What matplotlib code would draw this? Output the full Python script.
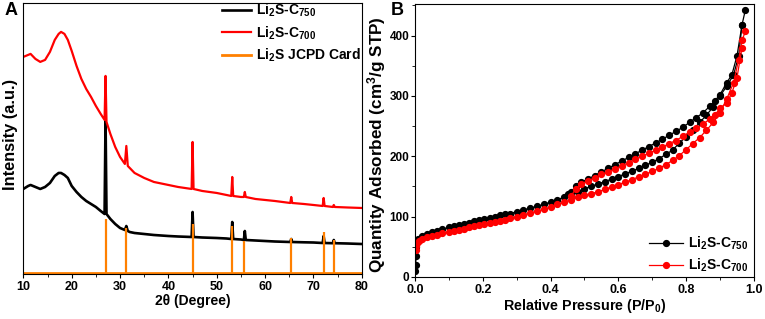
import matplotlib
matplotlib.use('Agg')
import matplotlib.pyplot as plt
from matplotlib.ticker import MultipleLocator

plt.rcParams['font.family'] = ['Liberation Sans', 'DejaVu Sans']
plt.rcParams['font.weight'] = 'bold'
plt.rcParams['axes.labelweight'] = 'bold'
plt.rcParams['mathtext.fontset'] = 'custom'
plt.rcParams['mathtext.rm'] = 'Liberation Sans:bold'
plt.rcParams['mathtext.it'] = 'Liberation Sans:bold'
plt.rcParams['mathtext.bf'] = 'Liberation Sans:bold'

# ---- panel A: XRD ----
two_theta = [10, 11, 11.5, 12.5, 13.5, 14.5, 15.5, 16.5, 17.3, 17.8, 18.5, 19.2, 20, 21, 22, 23, 24, 25, 26,
             26.8, 27.0, 27.2, 28, 29, 30, 31, 31.3, 31.6, 32, 33, 35, 37, 40, 42, 44.8, 45.0, 45.2, 47, 50,
             52, 53.0, 53.2, 53.4, 55, 55.6, 55.8, 56.0, 58, 60, 62, 65.2, 65.4, 65.6, 68, 70, 71.9, 72.1,
             72.3, 74.0, 74.2, 74.4, 77, 80]
int_750 = [85, 88, 89, 87, 85, 87, 91, 98, 101, 101, 99, 96, 88, 82, 77, 73, 70, 67, 63,
           60, 155, 60, 55, 50, 46, 44, 48, 43, 42, 41, 40, 39, 38, 37.5, 37, 62, 37, 36.5, 36,
           35.5, 35, 52, 35, 34.5, 34, 43, 34, 33.5, 33, 32.5, 32, 35, 32, 31.7, 31.5, 31, 38,
           31, 30.8, 34, 30.8, 30.5, 30]
int_700 = [217, 219, 220, 215, 212, 214, 222, 234, 240, 242, 240, 234, 223, 208, 195, 185, 177, 168, 160,
           154, 198, 152, 140, 127, 117, 110, 128, 108, 106, 101, 96, 92, 89, 87, 85, 132, 85, 83, 81,
           79, 78, 97, 78, 77, 77, 82, 77, 75, 74, 73, 71, 77, 71, 70, 69, 68, 76,
           68, 67, 69, 67, 66.5, 66]
card_pos = [27.0, 31.2, 45.0, 53.2, 55.6, 65.4, 72.1, 74.2]
card_int = [55, 46, 50, 48, 33, 36, 42, 34]

# ---- panel B: N2 isotherms ----
p_ads_750 = [0.001, 0.002, 0.003, 0.004, 0.006, 0.01, 0.02, 0.035, 0.05, 0.065, 0.08, 0.1, 0.115, 0.13,
             0.145, 0.16, 0.175, 0.19, 0.205, 0.22, 0.235, 0.25, 0.265, 0.28, 0.3, 0.32, 0.34, 0.36, 0.38,
             0.4, 0.42, 0.44, 0.46, 0.48, 0.5, 0.52, 0.54, 0.56, 0.58, 0.6, 0.62, 0.64, 0.66, 0.68, 0.7,
             0.72, 0.74, 0.76, 0.78, 0.8, 0.82, 0.84, 0.86, 0.88, 0.9, 0.92, 0.94, 0.955, 0.965, 0.975]
q_ads_750 = [10, 20, 35, 50, 58, 63, 68, 71, 74, 76, 79, 82, 84, 86,
             88, 90, 92, 94, 96, 98, 100, 102, 104, 105, 108, 111, 114, 117, 120,
             124, 128, 132, 136, 141, 146, 150, 154, 158, 162, 166, 171, 175, 180, 185, 190,
             196, 203, 210, 222, 232, 243, 256, 268, 282, 300, 316, 335, 366, 418, 443]
p_des_750 = [0.965, 0.95, 0.935, 0.92, 0.9, 0.885, 0.87, 0.85, 0.83, 0.81, 0.79, 0.77, 0.75, 0.73, 0.71,
             0.69, 0.67, 0.65, 0.63, 0.61, 0.59, 0.57, 0.55, 0.53, 0.51, 0.49, 0.475, 0.46, 0.45]
q_des_750 = [418, 366, 335, 322, 302, 292, 283, 272, 264, 256, 248, 241, 235, 228, 222,
             216, 210, 204, 198, 192, 186, 180, 174, 168, 162, 157, 150, 141, 137]
p_ads_700 = [0.002, 0.004, 0.007, 0.012, 0.02, 0.035, 0.05, 0.065, 0.08, 0.1, 0.115, 0.13, 0.145, 0.16,
             0.175, 0.19, 0.205, 0.22, 0.235, 0.25, 0.265, 0.28, 0.3, 0.32, 0.34, 0.36, 0.38, 0.4, 0.42,
             0.44, 0.46, 0.48, 0.5, 0.52, 0.54, 0.56, 0.58, 0.6, 0.62, 0.64, 0.66, 0.68, 0.7, 0.72, 0.74,
             0.76, 0.78, 0.8, 0.82, 0.84, 0.86, 0.88, 0.9, 0.92, 0.94, 0.955, 0.965, 0.975]
q_ads_700 = [45, 52, 56, 60, 63, 66, 68, 70, 72, 74, 76, 78, 80, 82,
             84, 86, 88, 90, 91, 93, 95, 97, 100, 103, 106, 109, 112, 116, 120,
             124, 128, 132, 135, 138, 141, 145, 149, 153, 157, 161, 166, 170, 175, 180, 186,
             193, 201, 211, 221, 231, 243, 256, 272, 295, 322, 360, 392, 407]
p_des_700 = [0.965, 0.95, 0.935, 0.92, 0.9, 0.885, 0.87, 0.85, 0.83, 0.81, 0.79, 0.77, 0.75, 0.73,
             0.71, 0.69, 0.67, 0.65, 0.63, 0.61, 0.59, 0.57, 0.55, 0.53, 0.51, 0.49, 0.475, 0.46]
q_des_700 = [380, 330, 305, 288, 280, 268, 262, 253, 246, 240, 233, 226, 221, 215,
             210, 205, 200, 195, 189, 184, 179, 174, 170, 164, 159, 154, 146, 134]

lbl_750 = r'Li$_\mathrm{2}$S-C$_\mathrm{750}$'
lbl_700 = r'Li$_\mathrm{2}$S-C$_\mathrm{700}$'
orange = '#ff8000'

fig = plt.figure(figsize=(7.65, 3.19), dpi=100)
axA = fig.add_axes([0.0305, 0.141, 0.4425, 0.85])
axB = fig.add_axes([0.5425, 0.132, 0.4430, 0.855])

# panel A
axA.plot(two_theta, int_750, color='black', lw=1.9, label=lbl_750)
axA.plot(two_theta, int_700, color='red', lw=1.6, label=lbl_700)
axA.vlines(card_pos, 0.8, card_int, color=orange, lw=1.6)
axA.axhline(0.8, color=orange, lw=2, label='Li$_\\mathrm{2}$S JCPD Card')
axA.set_xlim(10, 80)
axA.set_ylim(0, 271)
axA.set_yticks([])
axA.xaxis.set_major_locator(MultipleLocator(10))
axA.xaxis.set_minor_locator(MultipleLocator(5))
axA.tick_params(axis='x', which='major', direction='out', length=3, labelsize=9, pad=2)
axA.tick_params(axis='x', which='minor', direction='out', length=2)
axA.set_xlabel('2θ (Degree)', fontsize=10, labelpad=1)
axA.set_ylabel('Intensity (a.u.)', fontsize=11.8)
axA.yaxis.set_label_coords(-0.016, 0.515)
axA.legend(loc='upper right', frameon=False, fontsize=10, handlelength=2.1,
           handletextpad=0.4, labelspacing=0.38, borderaxespad=0.0,
           bbox_to_anchor=(1.015, 1.025))

# panel B
mk = dict(marker='o', ms=4.2, lw=0.9)
axB.plot(p_ads_750, q_ads_750, color='black', label=lbl_750, **mk)
axB.plot(p_des_750, q_des_750, color='black', **mk)
axB.plot(p_ads_700, q_ads_700, color='red', label=lbl_700, **mk)
axB.plot(p_des_700, q_des_700, color='red', **mk)
axB.set_xlim(0, 1.0)
axB.set_ylim(0, 452)
axB.xaxis.set_major_locator(MultipleLocator(0.2))
axB.xaxis.set_minor_locator(MultipleLocator(0.1))
axB.yaxis.set_major_locator(MultipleLocator(100))
axB.yaxis.set_minor_locator(MultipleLocator(50))
axB.tick_params(which='major', direction='out', length=3, labelsize=9, pad=2)
axB.tick_params(which='minor', direction='out', length=2)
axB.tick_params(axis='y', which='major', labelsize=8.5, pad=1)
axB.set_xlabel('Relative Pressure (P/P$_\\mathrm{0}$)', fontsize=10.3, labelpad=1)
axB.set_ylabel('Quantity Adsorbed (cm$^\\mathrm{3}$/g STP)', fontsize=12.3)
axB.yaxis.set_label_coords(-0.08, 0.485)
axB.legend(loc='lower right', frameon=False, fontsize=10, handlelength=2.4,
           handletextpad=0.4, labelspacing=0.3, borderaxespad=0.0,
           bbox_to_anchor=(1.0, -0.01))

fig.text(0.006, 0.952, 'A', fontsize=13, fontweight='bold')
fig.text(0.511, 0.952, 'B', fontsize=13, fontweight='bold')

fig.savefig('out.png', dpi=100)
